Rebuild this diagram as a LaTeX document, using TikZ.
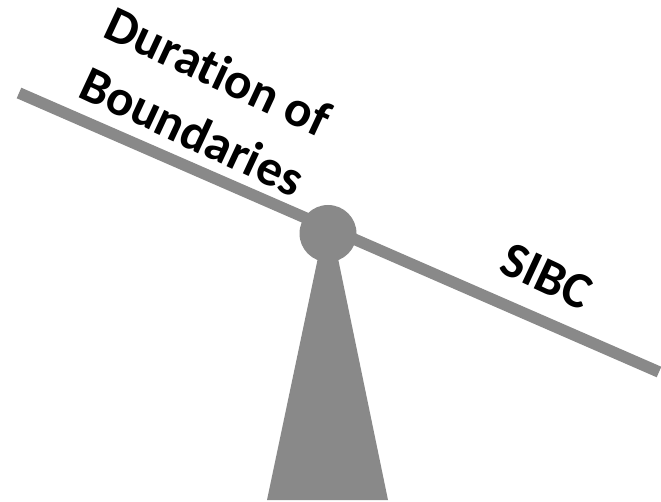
\documentclass[tikz,border=0pt]{standalone}
\usepackage{fontspec}
\setmainfont{Carlito}[Ligatures=NoCommon]
\definecolor{seesaw}{RGB}{137,137,137}
\begin{document}
\begin{tikzpicture}[x=1pt,y=-1pt,
  part/.style={fill=seesaw,draw=none},
  lbl/.style={font=\fontsize{51}{60}\selectfont\bfseries,anchor=base,inner sep=0pt,rotate=-25}]
\useasboundingbox (0,0) rectangle (661,502);
\coordinate (barL) at (19,93);
\coordinate (barR) at (659,372);
\draw[seesaw,line width=11.5pt,line cap=butt] (barL) -- (barR);
\fill[part] (328,210) -- (388,500) -- (267,500) -- cycle;
\fill[part] (328,233.5) circle[radius=28.5];
\node[lbl] (dur) at (211,87) {Duration of};
\node[lbl] (bnd) at (185,147) {Boundaries};
\node[lbl] (sibc) at (540,291) {SIBC};
\end{tikzpicture}
\end{document}
